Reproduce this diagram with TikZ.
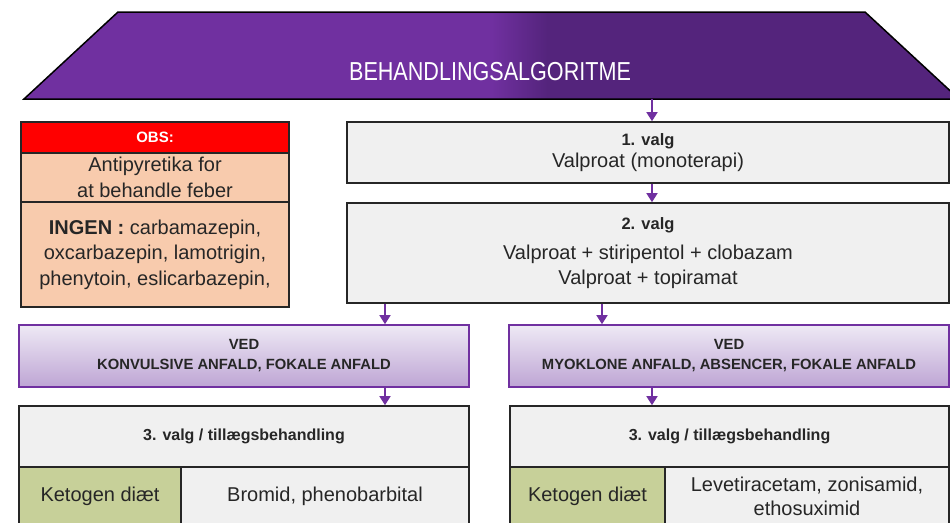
\documentclass[tikz,border=0pt]{standalone}
\usepackage{fontspec}
\setmainfont{Liberation Sans}
\newfontfamily\titlefont[FakeStretch=0.83]{Liberation Sans}
\usetikzlibrary{arrows.meta}
\definecolor{lilla}{RGB}{112,48,160}
\definecolor{lillamork}{RGB}{84,36,124}
\definecolor{boksgraa}{RGB}{240,240,240}
\definecolor{fersken}{RGB}{248,203,173}
\definecolor{oliven}{RGB}{199,208,153}
\definecolor{lavlys}{RGB}{238,233,245}
\definecolor{lavmork}{RGB}{190,165,212}
\definecolor{kant}{RGB}{38,38,38}
\pgfdeclarehorizontalshading{titelskygge}{100bp}{color(0bp)=(lilla); color(50bp)=(lilla); color(53bp)=(lillamork); color(100bp)=(lillamork)}
\begin{document}
\begin{tikzpicture}[x=1pt,y=1pt,line join=miter,
  boks/.style={draw=kant, line width=1.6pt, fill=boksgraa, text=kant, align=center, inner sep=0pt, font=\fontsize{20}{25}\selectfont},
  obs/.style={boks, fill=fersken, minimum width=268pt},
  ved/.style={boks, draw=lilla, top color=lavlys, bottom color=lavmork, minimum height=62pt, font=\fontsize{14.8}{20}\selectfont\bfseries},
  keto/.style={boks, fill=oliven, minimum height=58pt},
  pil/.style={draw=lilla, line width=1.5pt, -{Triangle[width=11pt,length=9pt]}}]
  \useasboundingbox (0,0) rectangle (950,-522);
  \clip (0,0) rectangle (950,-522);
  \def \sz{\fontsize{16.5}{20}\selectfont\bfseries}
  \shade[shading=titelskygge, draw=black, line width=1.5pt] (24,-99) -- (118,-12) -- (865,-12) -- (959,-99) -- cycle;
  \node[text=white, font=\titlefont\fontsize{26}{30}\selectfont] (titel) at (490,-72) {BEHANDLINGSALGORITME};
  \coordinate (titelbund) at (652,-99);
  \coordinate (colL) at (385,0);
  \coordinate (colM) at (602,0);
  \node[boks, minimum width=602pt, minimum height=61pt] (valg1) at (648,-152.5) {{\sz 1. valg}\\[-3pt]Valproat (monoterapi)};
  \node[boks, minimum width=602pt, minimum height=100pt] (valg2) at (648,-253) {{\sz 2. valg}\\[5pt]Valproat + stiripentol + clobazam\\Valproat + topiramat};
  \node[obs, fill=red, minimum height=31pt, text=white, font=\fontsize{15}{18}\selectfont\bfseries] (obshead) at (155,-137.5) {OBS:};
  \node[obs, minimum height=49pt, font=\fontsize{20}{26}\selectfont] (obsmid) at (155,-177.5) {Antipyretika for\\at behandle feber};
  \node[obs, minimum height=105pt, font=\fontsize{20}{25.5}\selectfont] (obslow) at (155,-254.5) {\textbf{INGEN :} carbamazepin,\\oxcarbazepin, lamotrigin,\\phenytoin, eslicarbazepin,};
  \node[ved, minimum width=450pt] (vedL) at (244,-356) {VED\\KONVULSIVE ANFALD, FOKALE ANFALD};
  \node[ved, minimum width=440pt] (vedR) at (729,-356) {VED\\MYOKLONE ANFALD, ABSENCER, FOKALE ANFALD};
  \node[boks, minimum width=450pt, minimum height=61pt, font=\fontsize{16}{20}\selectfont\bfseries] (tillL) at (244,-436.5) {3. valg / tillægsbehandling};
  \node[boks, minimum width=439pt, minimum height=61pt, font=\fontsize{16}{20}\selectfont\bfseries] (tillR) at (729.5,-436.5) {3. valg / tillægsbehandling};
  \node[keto, minimum width=162pt] (ketoL) at (100,-496) {Ketogen diæt};
  \node[boks, minimum width=288pt, minimum height=58pt] (drugL) at (325,-496) {Bromid, phenobarbital};
  \node[keto, minimum width=155pt] (ketoR) at (587.5,-496) {Ketogen diæt};
  \node[boks, minimum width=284pt, minimum height=58pt, font=\fontsize{20}{24}\selectfont] (drugR) at (807,-496) {Levetiracetam, zonisamid,\\ethosuximid};
  \draw[pil] (titelbund) -- (titelbund |- valg1.north);
  \foreach \a/\b/\c in {valg1/valg2/titelbund, valg2/vedL/colL, valg2/vedR/colM, vedL/tillL/colL, vedR/tillR/titelbund}{\draw[pil] (\a.south -| \c) -- (\b.north -| \c);}
\end{tikzpicture}
\end{document}
